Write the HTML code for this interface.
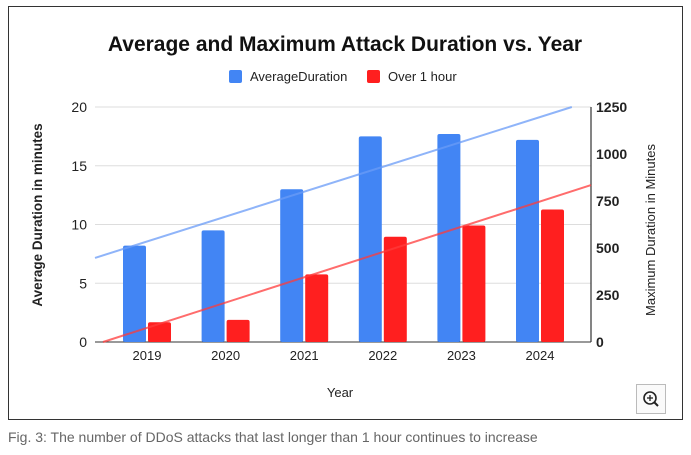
<!DOCTYPE html>
<html><head><meta charset="utf-8"><style>
body{margin:0;background:#fff;width:691px;height:455px;overflow:hidden;font-family:"Liberation Sans",sans-serif}
.frame{position:absolute;left:8px;top:6px;width:675px;height:414px;border:1px solid #333;box-sizing:border-box}
.cap{position:absolute;left:8px;top:429px;font-size:14px;color:#666;font-family:"Liberation Sans",sans-serif;letter-spacing:0px}
.zoom{position:absolute;left:636px;top:384px;width:30px;height:30px;border:1px solid #bbb;box-sizing:border-box;background:#fafafa}
</style></head><body>
<div class="frame"></div>
<svg id="chart" width="691" height="455" style="position:absolute;left:0;top:0"></svg>
<div class="zoom"><svg width="28" height="28"><circle cx="13" cy="13" r="6" fill="none" stroke="#222" stroke-width="1.6"/><line x1="17.5" y1="17.5" x2="21" y2="21" stroke="#222" stroke-width="2"/><line x1="10" y1="13" x2="16" y2="13" stroke="#222" stroke-width="1.3"/><line x1="13" y1="10" x2="13" y2="16" stroke="#222" stroke-width="1.3"/></svg></div>
<div class="cap">Fig. 3: The number of DDoS attacks that last longer than 1 hour continues to increase</div>
<script>
const categories=["2019","2020","2021","2022","2023","2024"];
const avgDuration=[8.2,9.5,13.0,17.5,17.7,17.2];
const overOneHour=[105,118,360,560,620,705];
const leftTicks=[0,5,10,15,20];
const rightTicks=[0,250,500,750,1000,1250];
const svg=document.getElementById('chart');
const NS='http://www.w3.org/2000/svg';
const X0=95,X1=591,Y0=342,Y1=107,LMAX=20,RMAX=1250,C0=147,STEP=78.6;
const yL=v=>Y0-(v/LMAX)*(Y0-Y1);
const yR=v=>Y0-(v/RMAX)*(Y0-Y1);
const xc=i=>C0+i*STEP;
const xi=px=>(px-C0)/STEP;
function mk(t,a,txt){const e=document.createElementNS(NS,t);for(const k in a)e.setAttribute(k,a[k]);if(txt!==undefined)e.textContent=txt;svg.appendChild(e);return e;}
let e;
leftTicks.forEach(v=>{
 e=mk('line',{x1:X0,x2:X1,y1:yL(v),y2:yL(v),stroke:v?'#ddd':'#333','stroke-width':1});
 
 e=mk('text',{x:87,y:yL(v)+5,'text-anchor':'end','font-size':14,fill:'#222'},v);
 
});
rightTicks.forEach(v=>{
 e=mk('text',{x:596,y:yR(v)+5,'font-size':14,'font-weight':'bold',fill:'#222'},v);
 
});
e=mk('line',{x1:X1,x2:X1,y1:Y1,y2:Y0,stroke:'#333','stroke-width':1.2});

categories.forEach((c,i)=>{
 e=mk('rect',{x:xc(i)-24,y:yL(avgDuration[i]),width:23,height:Y0-yL(avgDuration[i]),fill:'#4285f4',rx:2});
 
 e=mk('rect',{x:xc(i)+1,y:yR(overOneHour[i]),width:23,height:Y0-yR(overOneHour[i]),fill:'#ff1f1f',rx:2});
 
 e=mk('text',{x:xc(i),y:360,'text-anchor':'middle','font-size':13,fill:'#222'},c);
 
});
function reg(arr){const n=arr.length,mx=(n-1)/2,my=arr.reduce((a,b)=>a+b)/n;let s=0,q=0;arr.forEach((v,i)=>{s+=(i-mx)*(v-my);q+=(i-mx)*(i-mx);});const m=s/q;return x=>my+m*(x-mx);}
function trend(arr,yf,max,color,name){
 const f=reg(arr);let xa=X0,xb=X1;
 const slope=f(1)-f(0);
 let va=f(xi(xa)),vb=f(xi(xb));
 if(va<0){xa=xc(0)+(0-f(0))/slope*STEP;va=0;}
 if(vb>max){xb=xc(0)+(max-f(0))/slope*STEP;vb=max;}
 e=mk('line',{x1:xa,y1:yf(va),x2:xb,y2:yf(vb),stroke:color,'stroke-width':2,opacity:0.75});
 
}
trend(avgDuration,yL,LMAX,'#6a9cf7','trendline-average');
trend(overOneHour,yR,RMAX,'#ff3b3b','trendline-over-1-hour');
e=mk('text',{x:345,y:51,'text-anchor':'middle','font-size':21,'font-weight':'bold',fill:'#111'},'Average and Maximum Attack Duration vs. Year');

e=mk('rect',{x:229,y:70,width:13,height:13,fill:'#4285f4',rx:2});

e=mk('text',{x:250,y:81,'font-size':13,fill:'#222'},'AverageDuration');

e=mk('rect',{x:367,y:70,width:13,height:13,fill:'#ff1f1f',rx:2});

e=mk('text',{x:388,y:81,'font-size':13,fill:'#222'},'Over 1 hour');

e=mk('text',{x:340,y:397,'text-anchor':'middle','font-size':13,fill:'#222'},'Year');

e=mk('text',{x:0,y:0,'text-anchor':'middle','font-size':13.5,'font-weight':'bold',fill:'#222',transform:'translate(42,215) rotate(-90)'},'Average Duration in minutes');

e=mk('text',{x:0,y:0,'text-anchor':'middle','font-size':13,fill:'#222',transform:'translate(655,230) rotate(-90)'},'Maximum Duration in Minutes');

</script>
</body></html>
